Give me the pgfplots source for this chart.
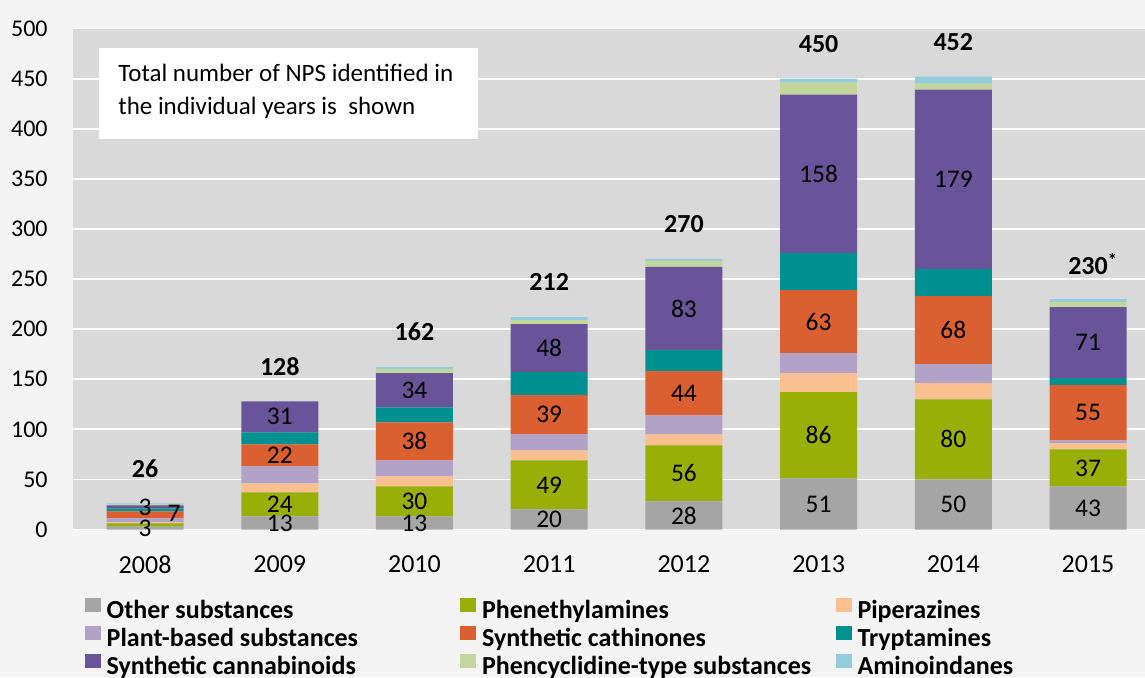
\documentclass[border=0pt]{standalone}
\usepackage{pgfplots}
\pgfplotsset{compat=1.18}
\usepackage{pgfplotstable}
\usepackage{fontspec}
\setmainfont{Carlito}

\definecolor{cOther}{HTML}{A5A5A5}
\definecolor{cPhen}{HTML}{98AF08}
\definecolor{cPip}{HTML}{FAC090}
\definecolor{cPlant}{HTML}{B3A2C7}
\definecolor{cCath}{HTML}{DA6032}
\definecolor{cTryp}{HTML}{00908F}
\definecolor{cCann}{HTML}{6A5499}
\definecolor{cPcp}{HTML}{C3D69B}
\definecolor{cAmino}{HTML}{93CDDD}
\definecolor{plotbg}{HTML}{D9D9D9}
\definecolor{pagebg}{HTML}{F4F4F4}

\pgfplotstableread{
x other phen pip plant cath tryp cann pcp amino total tl
0 3 3 1 4 7 3 3 1 1 26 26
1 13 24 9 17 22 12 31 0 0 128 128
2 13 30 10 16 38 15 34 4 2 162 162
3 20 49 10 16 39 23 48 4 3 212 212
4 28 56 11 19 44 21 83 6 2 270 270
5 51 86 19 20 63 37 158 12 4 450 450
6 50 80 16 19 68 27 179 6 7 452 452
7 43 37 6 3 55 7 71 5 3 230 {230\rlap{\textsuperscript{*}}}
}\nps

% segment labels: position (x, centre of segment) and value shown
\pgfplotstableread{
x y lab
0 1.5 3
0 22 3
0.215 16 7
1 6.5 13
1 25 24
1 74 22
1 112.5 31
2 6.5 13
2 28 30
2 88 38
2 139 34
3 10 20
3 44.5 49
3 114.5 39
3 181 48
4 14 28
4 56 56
4 136 44
4 220.5 83
5 25.5 51
5 94 86
5 207.5 63
5 355 158
6 25 50
6 90 80
6 199 68
6 349.5 179
7 21.5 43
7 61.5 37
7 116.5 55
7 186.5 71
}\labs

\pgfplotsset{
  sq/.style={draw=none, fill=#1,
    legend image code/.code={\fill[#1] (0pt,0pt) rectangle (8pt,7pt);}},
  frame/.style={at={(36.5pt,73.75pt)}, anchor=south west,
    scale only axis, width=536pt, height=250.5pt,
    xmin=-0.535, xmax=7.423, ymin=0, ymax=500},
}
\newcommand{\legtext}[1]{\makebox[174pt][l]{#1}}

\begin{document}
\begin{tikzpicture}[x=1pt,y=1pt]
\useasboundingbox (0,0) rectangle (572.5,338.5);
\fill[pagebg] (0,0) rectangle (572.5,338.5);
\begin{axis}[
  frame,
  ybar stacked, bar width=38.5pt,
  ytick={0,50,...,500},
  xtick={0,...,7},
  xticklabels={2008,2009,2010,2011,2012,2013,2014,2015},
  axis background/.style={fill=plotbg},
  ymajorgrids, grid style={white, line width=0.9pt},
  axis line style={draw=none},
  major tick length=0pt,
  /pgf/number format/assume math mode=true,
  yticklabel style={anchor=east, inner sep=0pt, xshift=-12.5pt, font=\fontsize{12}{14}\selectfont},
  xticklabel style={anchor=north, inner sep=0pt, yshift=-12.8pt, font=\fontsize{13}{15}\selectfont},
  legend columns=3,
  legend cell align=left,
  legend style={at={(0.0112,-0.1367)}, anchor=north west, draw=none, fill=none,
    inner sep=0pt, outer sep=0pt, column sep=2.85pt, row sep=1pt,
    font=\bfseries\fontsize{13}{15}\selectfont,
    nodes={inner sep=0pt, text height=9pt, text depth=3pt}},
  clip=false,
]
\addplot[sq=cOther] table[x=x, y=other] \nps; \addlegendentry{\legtext{Other substances}}
\addplot[sq=cPhen] table[x=x, y=phen] \nps; \addlegendentry{\legtext{Phenethylamines}}
\addplot[sq=cPip] table[x=x, y=pip] \nps; \addlegendentry{\legtext{Piperazines}}
\addplot[sq=cPlant] table[x=x, y=plant] \nps; \addlegendentry{\legtext{Plant-based substances}}
\addplot[sq=cCath] table[x=x, y=cath] \nps; \addlegendentry{\legtext{Synthetic cathinones}}
\addplot[sq=cTryp] table[x=x, y=tryp] \nps; \addlegendentry{\legtext{Tryptamines}}
\addplot[sq=cCann] table[x=x, y=cann] \nps; \addlegendentry{\legtext{Synthetic cannabinoids}}
\addplot[sq=cPcp] table[x=x, y=pcp] \nps; \addlegendentry{\legtext{Phencyclidine-type substances}}
\addplot[sq=cAmino] table[x=x, y=amino] \nps; \addlegendentry{\legtext{Aminoindanes}}
\end{axis}
\begin{axis}[frame, hide axis, clip=false]
\addplot[only marks, mark=none, point meta=explicit symbolic, nodes near coords,
  nodes near coords style={anchor=center, inner sep=0pt, font=\fontsize{12.7}{14}\selectfont, text=black}]
  table[x=x, y=y, meta=lab] \labs;
\addplot[only marks, mark=none, point meta=explicit symbolic, nodes near coords,
  nodes near coords style={anchor=center, inner sep=0pt, yshift=17.5pt, font=\bfseries\fontsize{13}{15}\selectfont, text=black}]
  table[x=x, y=total, meta=tl] \nps;
\end{axis}
\fill[white] (49.5,269) rectangle (239,314.5);
\node[anchor=west, align=left, inner sep=0pt, font=\fontsize{12.5}{16.5}\selectfont] at (59,292.75) {Total number of NPS identified in\\the individual years is\ \ shown};
\end{tikzpicture}
\end{document}
